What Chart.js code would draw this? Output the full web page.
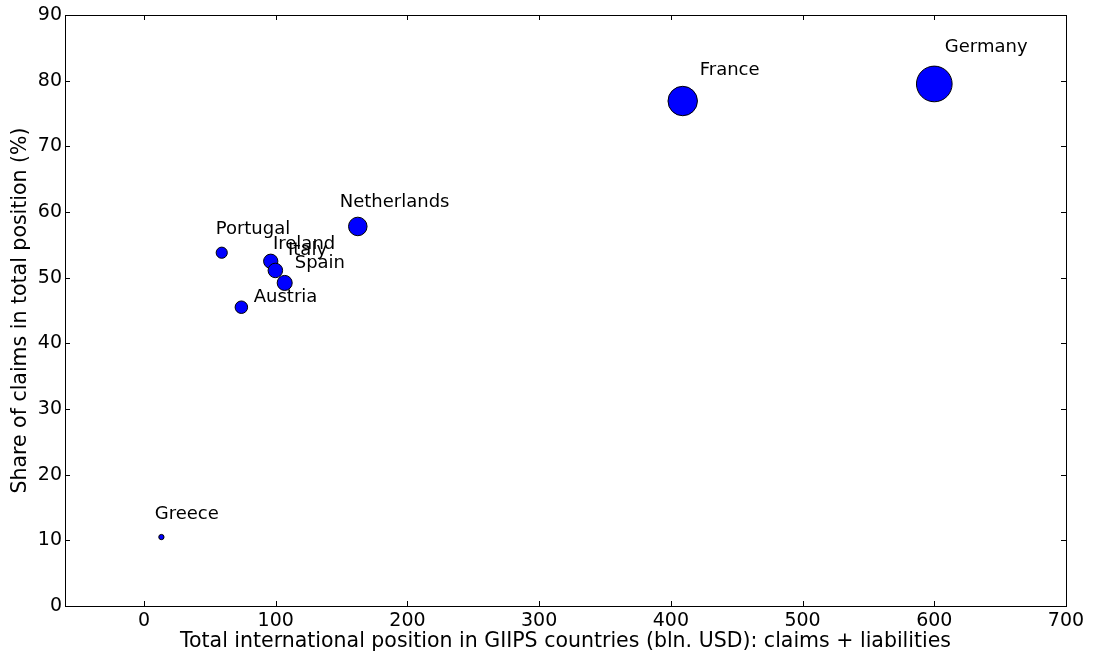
<!DOCTYPE html>
<html><head><meta charset="utf-8">
<script src="https://cdn.jsdelivr.net/npm/chart.js@4/dist/chart.umd.min.js"></script>
<style>html,body{margin:0;padding:0;background:#fff}#wrap{width:1094px;height:655px}</style>
</head><body><div id="wrap"><canvas id="c" width="1094" height="655"></canvas></div>
<script>
const countries = ['Greece','Portugal','Ireland','Italy','Spain','Austria','Netherlands','France','Germany'];
const totalPosition = [13.2, 59.0, 96.2, 99.7, 106.8, 73.9, 162.3, 409.0, 600.0];
const claimsShare = [10.5, 53.8, 52.5, 51.1, 49.2, 45.5, 57.8, 76.9, 79.5];
const labelX = [8.1, 54.4, 97.9, 109.3, 114.4, 83.3, 148.6, 421.9, 608.0];
const labelY = [13.3, 56.6, 54.4, 53.4, 51.5, 46.3, 60.8, 80.8, 84.4];
const xTicks = [0,100,200,300,400,500,600,700];
const yTicks = [0,10,20,30,40,50,60,70,80,90];

const FONT = 'DejaVu Sans';

const framePlugin = {
  id: 'frame',
  afterDatasetsDraw(chart) {
    const {ctx, chartArea: a, scales: {x, y}} = chart;
    ctx.save();
    ctx.strokeStyle = '#000';
    ctx.lineWidth = 1;
    ctx.strokeRect(Math.round(a.left)+0.5, Math.round(a.top)+0.5, Math.round(a.right-a.left), Math.round(a.bottom-a.top));
    const L = 5;
    ctx.beginPath();
    xTicks.forEach(v => {
      const px = Math.round(x.getPixelForValue(v)) + 0.5;
      ctx.moveTo(px, a.bottom); ctx.lineTo(px, a.bottom - L);
      ctx.moveTo(px, a.top); ctx.lineTo(px, a.top + L);
    });
    yTicks.forEach(v => {
      const py = Math.round(y.getPixelForValue(v)) + 0.5;
      ctx.moveTo(a.left, py); ctx.lineTo(a.left + L, py);
      ctx.moveTo(a.right, py); ctx.lineTo(a.right - L, py);
    });
    ctx.stroke();
    ctx.fillStyle = '#000';
    ctx.font = '18px "' + FONT + '"';
    ctx.textAlign = 'left';
    ctx.textBaseline = 'alphabetic';
    countries.forEach((n, i) => {
      ctx.fillText(n, x.getPixelForValue(labelX[i]), y.getPixelForValue(labelY[i]));
    });
    ctx.restore();
  }
};

new Chart(document.getElementById('c'), {
  type: 'bubble',
  data: {
    datasets: [{
      data: countries.map((c, i) => ({x: totalPosition[i], y: claimsShare[i]})),
      backgroundColor: '#0000ff',
      borderColor: '#000',
      borderWidth: 1,
      radius: ctx => 0.728 * Math.sqrt(ctx.raw ? ctx.raw.x : 0),
      clip: false
    }]
  },
  options: {
    responsive: false,
    animation: false,
    events: [],
    layout: {autoPadding: false, padding: {top: 15, right: 28, left: 0, bottom: 0}},
    plugins: {legend: {display: false}, tooltip: {enabled: false}},
    scales: {
      x: {
        type: 'linear', min: -60, max: 700,
        afterBuildTicks: s => { s.ticks = xTicks.map(v => ({value: v})); },
        afterFit: s => { s.height = 49; s.paddingLeft = 0; s.paddingRight = 0; },
        grid: {display: false, drawTicks: false},
        border: {display: false},
        ticks: {color: '#000', padding: 4, maxRotation: 0, font: {family: FONT, size: 19}},
        title: {display: true, text: 'Total international position in GIIPS countries (bln. USD): claims + liabilities',
                color: '#000', font: {family: FONT, size: 20.5}, padding: {top: 0, bottom: 1}}
      },
      y: {
        type: 'linear', min: 0, max: 90,
        afterBuildTicks: s => { s.ticks = yTicks.map(v => ({value: v})); },
        afterFit: s => { s.width = 65; s.paddingTop = 0; s.paddingBottom = 0; },
        grid: {display: false, drawTicks: false},
        border: {display: false},
        ticks: {color: '#000', padding: 3, font: {family: FONT, size: 19}},
        title: {display: true, text: 'Share of claims in total position (%)',
                color: '#000', font: {family: FONT, size: 20.5}, padding: {top: 8, bottom: 0}}
      }
    }
  },
  plugins: [framePlugin]
});
</script>
</body></html>
